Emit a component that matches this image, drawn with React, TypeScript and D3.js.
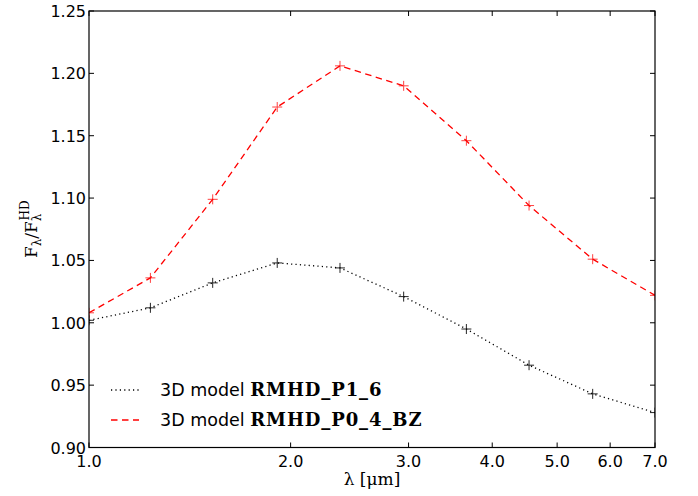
import React from "react";
import * as d3 from "d3";

const wavelengths = [1.0, 1.235, 1.53, 1.91, 2.37, 2.95, 3.66, 4.54, 5.65, 7.0];
const seriesP16 = [1.002, 1.012, 1.032, 1.048, 1.044, 1.021, 0.995, 0.966, 0.943, 0.928];
const seriesP04BZ = [1.008, 1.036, 1.099, 1.173, 1.206, 1.190, 1.146, 1.094, 1.051, 1.022];
const xTicks = [1, 2, 3, 4, 5, 6, 7];
const yTicks = [0.9, 0.95, 1.0, 1.05, 1.1, 1.15, 1.2, 1.25];
const legendPrefix = "3D model ";
const legendNames = ["RMHD_P1_6", "RMHD_P0_4_BZ"];

const W = 698, H = 496;
const L = 89, R = 655, T = 11, B = 447.5;

export default function App() {
  const x = d3.scaleLog().domain([1, 7]).range([L, R]);
  const y = d3.scaleLinear().domain([0.9, 1.25]).range([B, T]);
  const line = d3.line<number>().x((_, i) => x(wavelengths[i])).y((d) => y(d));
  const series = [
    { vals: seriesP16, color: "#000000", dash: "1.2,3.2", name: legendNames[0] },
    { vals: seriesP04BZ, color: "#ff0000", dash: "6.5,4.5", name: legendNames[1] },
  ];
  const tl = 5;
  return (
    <svg width={W} height={H} style={{ position: "absolute", left: 0, top: 0, background: "#fff" }}
      fontFamily="DejaVu Sans">
      <rect x={0} y={0} width={W} height={H} fill="#fff" />
      <defs>
        <clipPath id="clip"><rect x={L} y={T} width={R - L} height={B - T} /></clipPath>
      </defs>
      {/* series */}
      <g clipPath="url(#clip)">
        {series.map((s, k) => (
          <g key={k}>
            <path d={line(s.vals) || ""} fill="none" stroke={s.color} strokeWidth={1.3} strokeDasharray={s.dash} />
            {s.vals.map((v, i) => {
              const cx = x(wavelengths[i]), cy = y(v);
              return (
                <path key={i} d={`M${cx - 5},${cy}H${cx + 5}M${cx},${cy - 5}V${cy + 5}`}
                  stroke={s.color} strokeWidth={1} opacity={k === 1 ? 0.75 : 0.85} />
              );
            })}
          </g>
        ))}
      </g>
      {/* frame */}
      <rect x={L} y={T} width={R - L} height={B - T} fill="none" stroke="#000" strokeWidth={1.2} />
      {/* x ticks */}
      {xTicks.map((t) => (
        <g key={t}>
          <line x1={x(t)} x2={x(t)} y1={B} y2={B - tl} stroke="#000" />
          <line x1={x(t)} x2={x(t)} y1={T} y2={T + tl} stroke="#000" />
          <text x={x(t)} y={467} textAnchor="middle" fontSize={16}>{d3.format(".1f")(t)}</text>
        </g>
      ))}
      {/* y ticks */}
      {yTicks.map((t) => (
        <g key={t}>
          <line x1={L} x2={L + tl} y1={y(t)} y2={y(t)} stroke="#000" />
          <line x1={R} x2={R - tl} y1={y(t)} y2={y(t)} stroke="#000" />
          <text x={86} y={y(t) + 6} textAnchor="end" fontSize={16}>{d3.format(".2f")(t)}</text>
        </g>
      ))}
      {/* x label */}
      <text x={(L + R) / 2} y={485} textAnchor="middle" fontFamily="DejaVu Serif" fontSize={17}>λ [μm]</text>
      {/* y label */}
      <g transform={`translate(37,${(T + B) / 2}) rotate(-90)`}>
        <text textAnchor="middle" fontFamily="DejaVu Serif" fontSize={17}>
          <tspan>F</tspan>
          <tspan fontSize={12} dy={4}>λ</tspan>
          <tspan dy={-4}>/F</tspan>
          <tspan fontSize={12} dy={4}>λ</tspan>
          <tspan fontSize={12} dx={-7} dy={-12}>HD</tspan>
        </text>
      </g>
      {/* legend */}
      {series.map((s, k) => {
        const ly = 390 + k * 30;
        return (
          <g key={k}>
            <line x1={111} x2={139} y1={ly} y2={ly} stroke={s.color} strokeWidth={1.3} strokeDasharray={s.dash} />
            <text x={160} y={ly + 6} fontSize={17.5}>
              <tspan>{legendPrefix}</tspan>
              <tspan fontFamily="DejaVu Serif" fontWeight="bold" fontSize={18} letterSpacing={0.9}>{s.name}</tspan>
            </text>
          </g>
        );
      })}
    </svg>
  );
}
